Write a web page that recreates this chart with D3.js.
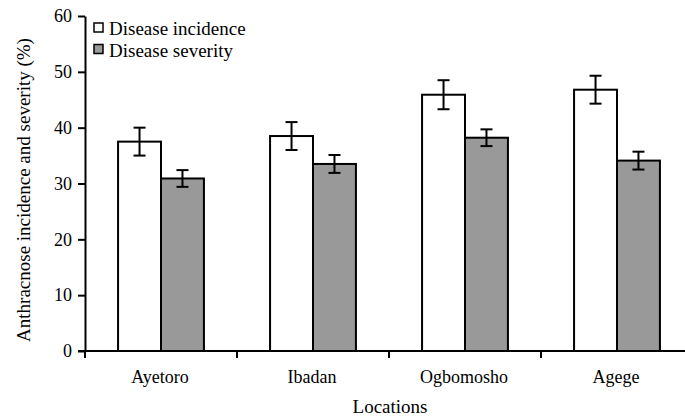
<!DOCTYPE html>
<html>
<head>
<meta charset="utf-8">
<script src="https://cdn.jsdelivr.net/npm/d3@7"></script>
<style>
  body { margin: 0; background: #fff; }
  svg text { font-family: "Liberation Serif", "Times New Roman", Times, serif; fill: #000; }
</style>
</head>
<body>
<script>
// data
var locations = ["Ayetoro", "Ibadan", "Ogbomosho", "Agege"];
var seriesNames = ["Disease incidence", "Disease severity"];
var incidence = [37.5, 38.5, 45.9, 46.8];
var incidenceErr = [2.5, 2.5, 2.6, 2.5];
var severity = [30.9, 33.5, 38.2, 34.1];
var severityErr = [1.5, 1.6, 1.5, 1.6];
var yTicks = [0, 10, 20, 30, 40, 50, 60];
var colours = ["#ffffff", "#999999"];

var width = 685, height = 416;
var margin = {top: 16, right: -8, bottom: 65, left: 85};
var serif = "'Liberation Serif', 'Times New Roman', Times, serif";

var svg = d3.select("body").append("svg")
  .attr("width", width)
  .attr("height", height)
  .attr("font-family", serif);

var x = d3.scaleBand()
  .domain(locations)
  .range([margin.left, width - margin.right])
  .padding(0);

var inner = d3.scaleBand()
  .domain(seriesNames)
  .range([0, x.bandwidth()])
  .paddingInner(0)
  .paddingOuter(0.77);

var y = d3.scaleLinear()
  .domain([0, 60])
  .range([height - margin.bottom, margin.top]);

var rows = locations.map(function(loc, i) {
  return {
    name: loc,
    values: [
      {series: seriesNames[0], value: incidence[i], err: incidenceErr[i]},
      {series: seriesNames[1], value: severity[i], err: severityErr[i]}
    ]
  };
});

// bars
var groups = svg.selectAll("g.group")
  .data(rows)
  .enter().append("g")
    .attr("class", "group")
    .attr("transform", function(d) { return "translate(" + x(d.name) + ",0)"; });

groups.selectAll("rect")
  .data(function(d) { return d.values; })
  .enter().append("rect")
    .attr("x", function(d) { return inner(d.series); })
    .attr("y", function(d) { return y(d.value); })
    .attr("width", inner.bandwidth())
    .attr("height", function(d) { return y(0) - y(d.value); })
    .attr("fill", function(d, i) { return colours[i]; })
    .attr("stroke", "#000")
    .attr("stroke-width", 2);

// error bars
var cap = 6;
var err = groups.selectAll("g.err")
  .data(function(d) { return d.values; })
  .enter().append("g")
    .attr("class", "err")
    .attr("stroke", "#000")
    .attr("stroke-width", 2);

err.append("line")
  .attr("x1", function(d) { return inner(d.series) + inner.bandwidth() / 2; })
  .attr("x2", function(d) { return inner(d.series) + inner.bandwidth() / 2; })
  .attr("y1", function(d) { return y(d.value + d.err); })
  .attr("y2", function(d) { return y(d.value - d.err); });

[1, -1].forEach(function(s) {
  err.append("line")
    .attr("x1", function(d) { return inner(d.series) + inner.bandwidth() / 2 - cap; })
    .attr("x2", function(d) { return inner(d.series) + inner.bandwidth() / 2 + cap; })
    .attr("y1", function(d) { return y(d.value + s * d.err); })
    .attr("y2", function(d) { return y(d.value + s * d.err); });
});

// y axis
var yAxis = svg.append("g")
  .attr("transform", "translate(" + margin.left + ",0)")
  .call(d3.axisLeft(y).tickValues(yTicks).tickSize(7).tickPadding(6).tickSizeOuter(0));
yAxis.attr("font-family", serif);
yAxis.select(".domain").attr("stroke-width", 2);
yAxis.selectAll(".tick line").attr("stroke-width", 2);
yAxis.selectAll("text")
  .style("font-family", serif)
  .style("font-size", "18px")
  .attr("fill", "#000");

// x axis: line, boundary ticks, labels
var x0 = y(0);
svg.append("line")
  .attr("x1", margin.left - 7).attr("x2", width)
  .attr("y1", x0).attr("y2", x0)
  .attr("stroke", "#000").attr("stroke-width", 2);

var bounds = locations.map(function(d) { return x(d); });
svg.selectAll("line.xtick")
  .data(bounds)
  .enter().append("line")
    .attr("class", "xtick")
    .attr("x1", function(d) { return d; })
    .attr("x2", function(d) { return d; })
    .attr("y1", x0).attr("y2", x0 + 7)
    .attr("stroke", "#000").attr("stroke-width", 2);

svg.selectAll("text.xlab")
  .data(locations)
  .enter().append("text")
    .attr("class", "xlab")
    .attr("x", function(d) { return x(d) + x.bandwidth() / 2 - 1; })
    .attr("y", 383)
    .attr("text-anchor", "middle")
    .style("font-family", serif)
    .style("font-size", "18px")
    .text(function(d) { return d; });

// axis titles
svg.append("text")
  .attr("x", 390)
  .attr("y", 413)
  .attr("text-anchor", "middle")
  .style("font-family", serif)
  .style("font-size", "19px")
  .text("Locations");

svg.append("text")
  .attr("transform", "translate(30,190) rotate(-90)")
  .attr("text-anchor", "middle")
  .style("font-family", serif)
  .style("font-size", "19px")
  .text("Anthracnose incidence and severity (%)");

// legend
var legend = svg.selectAll("g.legend")
  .data(seriesNames)
  .enter().append("g")
    .attr("class", "legend")
    .attr("transform", function(d, i) { return "translate(94," + (23 + i * 21.5) + ")"; });

legend.append("rect")
  .attr("width", 9).attr("height", 9)
  .attr("fill", function(d, i) { return colours[i]; })
  .attr("stroke", "#000").attr("stroke-width", 1.5);

legend.append("text")
  .attr("x", 15).attr("y", 12)
  .style("font-family", serif)
  .style("font-size", "19px")
  .text(function(d) { return d; });
</script>
</body>
</html>
